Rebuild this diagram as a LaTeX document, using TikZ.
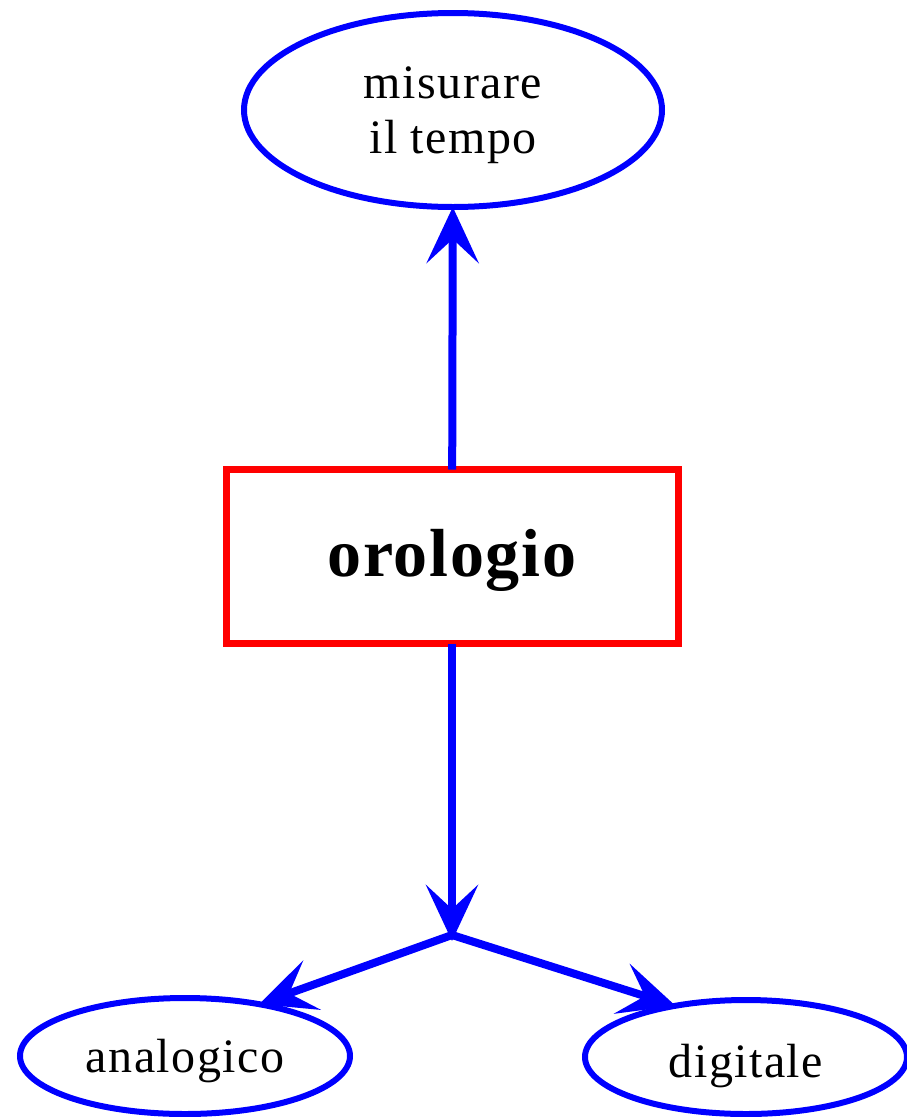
\documentclass[tikz,border=0pt]{standalone}
\usepackage{fontspec}
\setmainfont{Liberation Serif}
\usetikzlibrary{arrows.meta,shapes.geometric}
\definecolor{pblue}{RGB}{0,0,255}
\definecolor{pred}{RGB}{255,0,0}
\begin{document}
\begin{tikzpicture}[x=1pt,y=-1pt,
  oval/.style={ellipse,draw=pblue,line width=6pt,inner sep=0pt,outer sep=0pt,
    font=\fontsize{48}{55}\selectfont\addfontfeatures{LetterSpace=3}},
  mainbox/.style={rectangle,draw=pred,line width=7pt,inner sep=0pt,outer sep=0pt,
    minimum width=452pt,minimum height=174pt,font=\fontsize{68}{72}\selectfont\bfseries\addfontfeatures{LetterSpace=2.5}},
  conn/.style={draw=pblue,line width=8pt},
  tip/.style={-{Stealth[length=56pt,width=52pt,inset=24pt]}}]
\useasboundingbox (0,0) rectangle (907,1117);
\fill[white] (0,0) rectangle (907,1117);
\node[oval,minimum width=418pt,minimum height=194pt] (top) at (453,110) {\raisebox{-11.5pt}[0pt][0pt]{\begin{tabular}{@{}c@{}}misurare\\il tempo\end{tabular}}};
\node[mainbox,text height=45pt,text depth=6pt] (oro) at (452,556.5) {orologio};
\node[oval,minimum width=330pt,minimum height=116pt,text height=36pt,text depth=4pt] (ana) at (185,1056) {analogico};
\node[oval,minimum width=322pt,minimum height=114pt,text height=40pt,text depth=0pt] (dig) at (746,1057) {digitale};
\coordinate (j) at (452,935);
\draw[conn,tip] (oro) -- (top);
\draw[conn,tip] (oro) -- ([yshift=-6pt]j);
\draw[conn,tip] (j) -- (ana.35);
\draw[conn,tip] (j) -- (dig.144);
\end{tikzpicture}
\end{document}
